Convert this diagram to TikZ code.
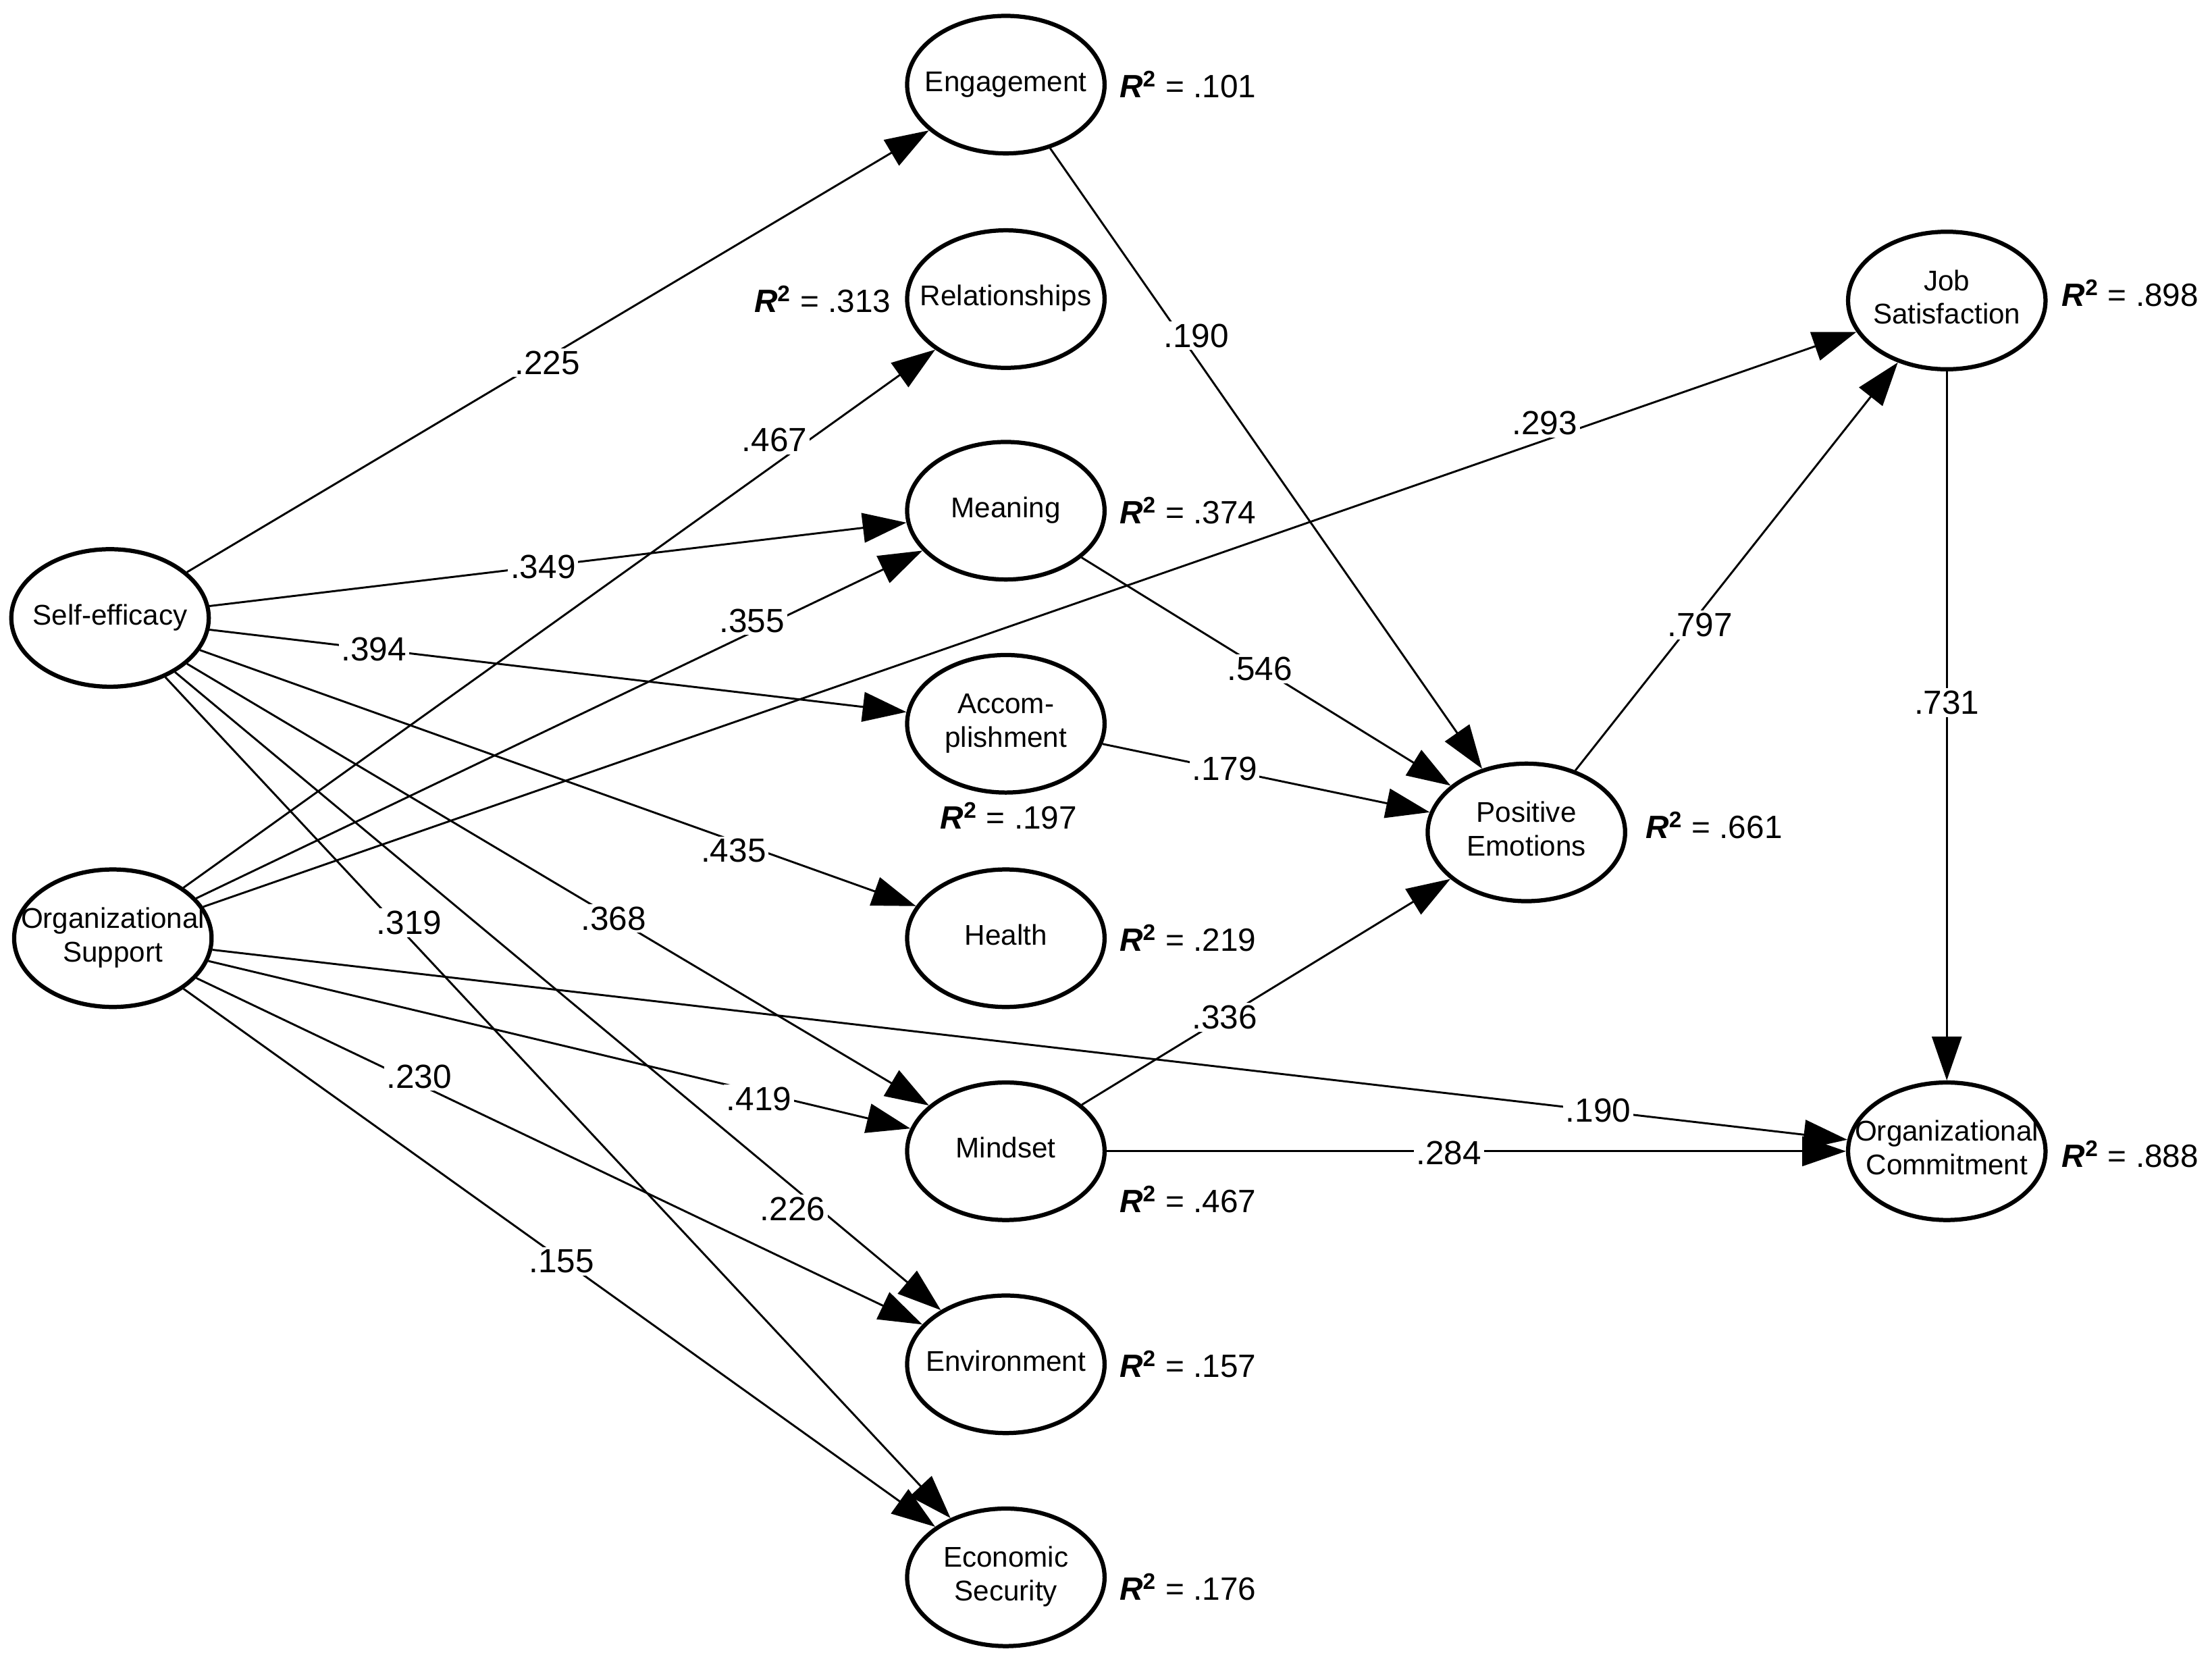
\documentclass[tikz,border=0pt]{standalone}
\usepackage{fontspec}
\setmainfont{Liberation Sans}
\usetikzlibrary{shapes.geometric,arrows.meta}
\newcommand{\nt}[1]{\makebox[0pt]{\begin{tabular}{@{}c@{}}#1\end{tabular}}}
\begin{document}
\begin{tikzpicture}[x=0.02cm,y=-0.02cm,
  lv/.style={ellipse,draw,line width=1.7pt,minimum width=2.8cm,minimum height=1.95cm,inner sep=0pt,font=\fontsize{11.5}{13.5}\selectfont},
  pa/.style={draw,line width=0.8pt,-{Triangle[length=0.62cm,width=0.42cm]}},
  cf/.style={fill=white,inner sep=1pt,font=\fontsize{13.5}{15}\selectfont},
  rs/.style={font=\fontsize{13}{15}\selectfont,anchor=center}]
\useasboundingbox (0,0) rectangle (1568,1185);
\newcommand{\rsq}[1]{\textbf{\textit{R}}$^{\mathbf{2}}$ = #1}
\node[lv] (se) at (78,438) {\nt{Self-efficacy}};
\node[lv] (os) at (80,665) {\nt{Organizational\\Support}};
\node[lv] (en) at (713,60) {\nt{Engagement}};
\node[lv] (re) at (713,212) {\nt{Relationships}};
\node[lv] (me) at (713,362) {\nt{Meaning}};
\node[lv] (ac) at (713,513) {\nt{Accom-\\plishment}};
\node[lv] (he) at (713,665) {\nt{Health}};
\node[lv] (mi) at (713,816) {\nt{Mindset}};
\node[lv] (ev) at (713,967) {\nt{Environment}};
\node[lv] (ec) at (713,1118) {\nt{Economic\\Security}};
\node[lv] (pe) at (1082,590) {\nt{Positive\\Emotions}};
\node[lv] (js) at (1380,213) {\nt{Job\\Satisfaction}};
\node[lv] (oc) at (1380,816) {\nt{Organizational\\Commitment}};
\draw[pa] (se) -- (en);
\draw[pa] (os) -- (re);
\draw[pa] (se) -- (me);
\draw[pa] (os) -- (me);
\draw[pa] (se) -- (ac);
\draw[pa] (os) -- (js);
\draw[pa] (se) -- (he);
\draw[pa] (se) -- (mi);
\draw[pa] (se) -- (ec);
\draw[pa] (se) -- (ev);
\draw[pa] (os) -- (mi);
\draw[pa] (os) -- (oc);
\draw[pa] (os) -- (ev);
\draw[pa] (os) -- (ec);
\draw[pa] (en) -- (pe);
\draw[pa] (me) -- (pe);
\draw[pa] (ac) -- (pe);
\draw[pa] (mi) -- (pe);
\draw[pa] (mi) -- (oc);
\draw[pa] (pe) -- (js);
\draw[pa] (js) -- (oc);
\node[cf] (l1) at (388,257) {.225};
\node[cf] (l2) at (549,312) {.467};
\node[cf] (l3) at (385,402) {.349};
\node[cf] (l4) at (533,440) {.355};
\node[cf] (l5) at (265,460) {.394};
\node[cf] (l6) at (1095,300) {.293};
\node[cf] (l7) at (520,603) {.435};
\node[cf] (l8) at (435,651) {.368};
\node[cf] (l9) at (290,654) {.319};
\node[cf] (l10) at (562,857) {.226};
\node[cf] (l11) at (538,779) {.419};
\node[cf] (l12) at (1133,787) {.190};
\node[cf] (l13) at (297,763) {.230};
\node[cf] (l14) at (398,894) {.155};
\node[cf] (l15) at (848,238) {.190};
\node[cf] (l16) at (893,474) {.546};
\node[cf] (l17) at (868,545) {.179};
\node[cf] (l18) at (868,721) {.336};
\node[cf] (l19) at (1027,817) {.284};
\node[cf] (l20) at (1205,443) {.797};
\node[cf] (l21) at (1380,498) {.731};
\node[rs] (r1) at (842,60) {\rsq{.101}};
\node[rs] (r2) at (583,212) {\rsq{.313}};
\node[rs] (r3) at (842,362) {\rsq{.374}};
\node[rs] (r4) at (715,578) {\rsq{.197}};
\node[rs] (r5) at (842,665) {\rsq{.219}};
\node[rs] (r6) at (842,850) {\rsq{.467}};
\node[rs] (r7) at (842,967) {\rsq{.157}};
\node[rs] (r8) at (842,1125) {\rsq{.176}};
\node[rs] (r9) at (1215,585) {\rsq{.661}};
\node[rs] (r10) at (1510,208) {\rsq{.898}};
\node[rs] (r11) at (1510,818) {\rsq{.888}};
\end{tikzpicture}
\end{document}
